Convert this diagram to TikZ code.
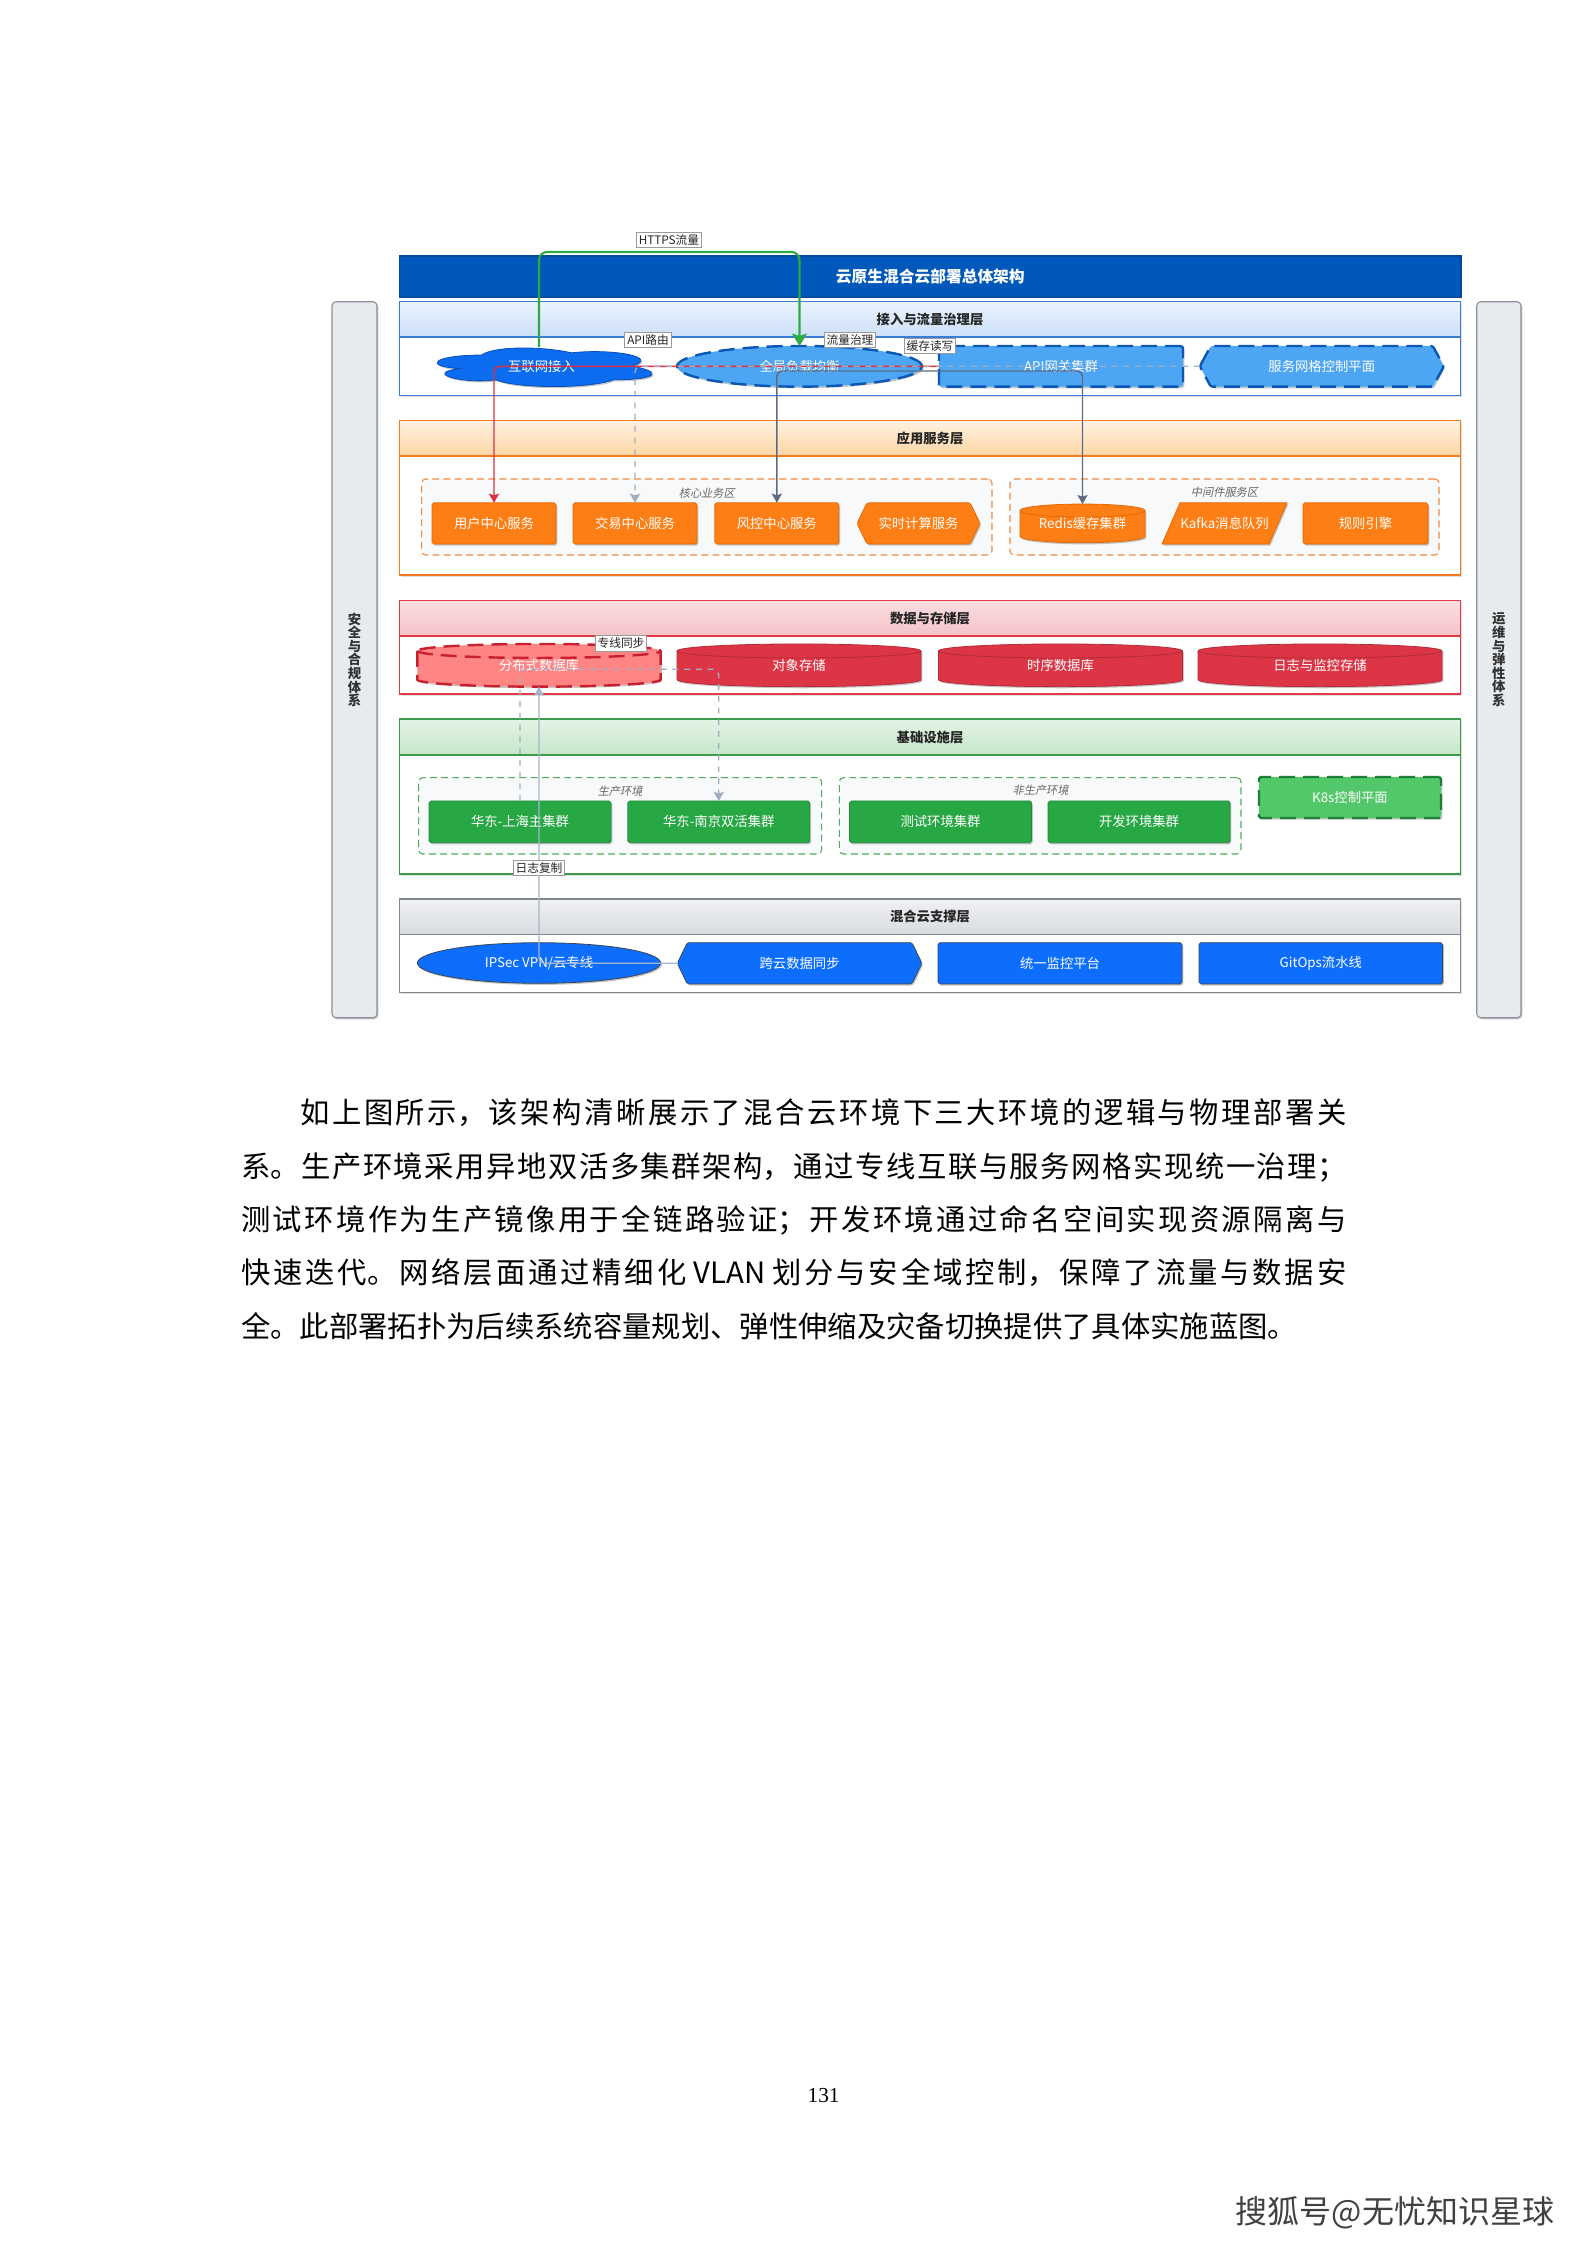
\documentclass[tikz,border=0pt]{standalone}
\usepackage{fontspec}
\setmainfont{Noto Sans CJK SC}
\newfontfamily\songti{Noto Sans CJK SC}
\newfontfamily\cjkslant{Noto Sans CJK SC}[FakeSlant=0.2]
\newfontfamily\pagefont{Liberation Serif}
\usetikzlibrary{shapes.geometric,arrows.meta,shadows,calc}
\XeTeXlinebreaklocale "zh"
\XeTeXlinebreakskip=0pt plus 10pt
\pgfdeclarelayer{bg}
\pgfdeclarelayer{shp}
\pgfsetlayers{bg,shp,main}
\newcommand\fs[1]{\fontsize{#1}{#1}\selectfont}
\definecolor{cTitle}{HTML}{0058BB}\definecolor{cTitleD}{HTML}{004A9E}
\definecolor{c1B}{HTML}{3A7DD8}\definecolor{c1T}{HTML}{EAF3FE}\definecolor{c1M}{HTML}{CCE0F8}
\definecolor{c2B}{HTML}{F47B20}\definecolor{c2T}{HTML}{FFF1DF}\definecolor{c2M}{HTML}{FFD6A5}
\definecolor{c3B}{HTML}{E23B47}\definecolor{c3T}{HTML}{FBDDE0}\definecolor{c3M}{HTML}{F4C2C7}
\definecolor{c4B}{HTML}{3B9B4A}\definecolor{c4T}{HTML}{E4F4E5}\definecolor{c4M}{HTML}{C5E6C9}
\definecolor{c5B}{HTML}{80878F}\definecolor{c5T}{HTML}{F0F1F3}\definecolor{c5M}{HTML}{D8DBE0}
\definecolor{cCloud}{HTML}{0C6CF0}\definecolor{cCloudD}{HTML}{0A4FB8}
\definecolor{cLt}{HTML}{4DA6F3}\definecolor{cDk}{HTML}{0B57B5}
\definecolor{cOr}{HTML}{FD7E14}\definecolor{cOrD}{HTML}{E36A05}
\definecolor{cRd}{HTML}{DC3545}\definecolor{cRdD}{HTML}{B52A37}
\definecolor{cDbL}{HTML}{FF8585}\definecolor{cDbD}{HTML}{C8202F}
\definecolor{cGr}{HTML}{28A745}\definecolor{cGrD}{HTML}{1F8A38}
\definecolor{cK8}{HTML}{52C86A}\definecolor{cK8D}{HTML}{1E7E34}
\definecolor{cBl}{HTML}{0D6EFD}\definecolor{cBlD}{HTML}{3A4654}
\definecolor{cZone}{HTML}{F8F9FA}\definecolor{cOrZ}{HTML}{F08A3C}\definecolor{cGrZ}{HTML}{4CAF5A}
\definecolor{cSide}{HTML}{E8EBEE}\definecolor{cSideD}{HTML}{8A9098}
\definecolor{cRedL}{HTML}{E0303F}\definecolor{cSlate}{HTML}{5C6B82}\definecolor{cGrayD}{HTML}{A0ADBE}
\definecolor{cLight}{HTML}{A6B6CE}\definecolor{cHttps}{HTML}{2DAA46}\definecolor{cLbl}{HTML}{9A9A9A}
\tikzset{
  sz/.style 2 args={minimum width=#1*0.375pt, minimum height=#2*0.375pt},
  shad/.style={drop shadow={shadow xshift=0.5pt,shadow yshift=-0.6pt,opacity=0.22,fill=black}},
  nd/.style={inner sep=0pt, outer sep=0pt, text=white, font=\fs{5}, align=center},
  box/.style={nd, rectangle, rounded corners=0.7pt, shad, line width=0.3pt},
  orng/.style={box, fill=cOr, draw=cOrD},
  grn/.style={box, fill=cGr, draw=cGrD},
  blu/.style={box, fill=cBl, draw=cBlD},
  dsh/.style={line width=0.9pt, dash pattern=on 6pt off 3pt},
  hold/.style={nd, rectangle},
  title/.style={rectangle, inner sep=0pt, fill=cTitle, draw=cTitleD, line width=0.4pt, text=white, font=\fs{5.9}\bfseries},
  lbody/.style={rectangle, inner sep=0pt, fill=white, draw=#1, line width=0.4pt, drop shadow={shadow xshift=0.5pt,shadow yshift=-0.6pt,opacity=0.12,fill=black}},
  lhead/.style={rectangle, inner sep=0pt, draw=#1, line width=0.4pt, font=\fs{5}\bfseries, text=black!85},
  zone/.style={rectangle, rounded corners=1.5pt, fill=cZone, draw=#1, line width=0.4pt, dash pattern=on 2.6pt off 1.6pt, inner sep=0pt},
  zlbl/.style={font=\cjkslant\fs{4.2}, text=black!60, inner sep=0pt},
  side/.style={rectangle, rounded corners=1.5pt, fill=cSide, draw=cSideD, line width=0.4pt, align=center, font=\fontsize{5}{5.1}\selectfont\bfseries, text=black!80, inner sep=0pt, shad},
  elbl/.style={fill=white, draw=cLbl, line width=0.3pt, inner sep=0.9pt, font=\fs{4.4}, text=black!85},
  tipS/.style={-{Stealth[length=3.4pt,width=3.8pt,inset=0.6pt]}},
  redl/.style={draw=cRedL, line width=0.55pt, rounded corners=2pt, tipS},
  grayd/.style={draw=cGrayD, line width=0.5pt, dash pattern=on 2.2pt off 2.2pt, rounded corners=2pt, tipS},
  slate/.style={draw=cSlate, line width=0.55pt, rounded corners=2pt},
  lightl/.style={draw=cLight, line width=0.45pt, rounded corners=2pt, tipS},
  https/.style={draw=cHttps, line width=0.8pt, rounded corners=3pt, -{Stealth[length=4.6pt,width=5.6pt,inset=0.8pt]}},
  para/.style={anchor=north west, inner sep=0pt, text width=414.5pt, align=justify, font=\songti\fontsize{11}{20}\selectfont, text=black}
}
\newcommand\hexa[3]{\begin{pgfonlayer}{shp}\path[#3] (#1.west) -- ($(#1.north west)+(#2,0)$) -- ($(#1.north east)+(-#2,0)$) -- (#1.east) -- ($(#1.south east)+(-#2,0)$) -- ($(#1.south west)+(#2,0)$) -- cycle;\end{pgfonlayer}}
\newcommand\paral[3]{\begin{pgfonlayer}{shp}\path[#3] (#1.south west) -- ($(#1.north west)+(#2,0)$) -- (#1.north east) -- ($(#1.south east)+(-#2,0)$) -- cycle;\end{pgfonlayer}}
\newcommand\cylnd[5]{\begin{pgfonlayer}{shp}
\path[#4] ($(#1.north west)+(0,-#3)$) -- ($(#1.south west)+(0,#3)$) arc[start angle=180,end angle=360,x radius=#2*0.1875pt,y radius=#3*0.375pt] -- ($(#1.north east)+(0,-#3)$) arc[start angle=0,end angle=180,x radius=#2*0.1875pt,y radius=#3*0.375pt] -- cycle;
\path[#5] ($(#1.north west)+(0,-#3)$) arc[start angle=180,end angle=360,x radius=#2*0.1875pt,y radius=#3*0.375pt];
\end{pgfonlayer}}
\begin{document}
\begin{tikzpicture}[x=0.375pt,y=0.375pt]
\begin{pgfonlayer}{bg}
\fill[white] (0,0) rectangle (1587,-2245);
\end{pgfonlayer}
\useasboundingbox (0,0) rectangle (1587,-2245);

% side bars
\node[side, sz={45}{716}] (secL) at (354.5,-659.75) {安\\全\\与\\合\\规\\体\\系};
\node[side, sz={44.3}{716}] (opsR) at (1498.85,-659.75) {运\\维\\与\\弹\\性\\体\\系};

% title
\node[title, sz={1061.4}{41}] (T) at (930.3,-276.5) {云原生混合云部署总体架构};

% layers
\begin{pgfonlayer}{bg}
\node[lbody=c1B, sz={1060.9}{94}] (L1) at (930.05,-348.7) {};
\node[lhead=c1B, top color=c1T, bottom color=c1M, sz={1060.9}{35.3}] (L1h) at (930.05,-319.35) {接入与流量治理层};
\node[lbody=c2B, sz={1060.9}{154.3}] (L2) at (930.05,-497.85) {};
\node[lhead=c2B, top color=c2T, bottom color=c2M, sz={1060.9}{35.3}] (L2h) at (930.05,-438.35) {应用服务层};
\node[lbody=c3B, sz={1060.9}{93.3}] (L3) at (930.05,-647.35) {};
\node[lhead=c3B, top color=c3T, bottom color=c3M, sz={1060.9}{35.3}] (L3h) at (930.05,-618.35) {数据与存储层};
\node[lbody=c4B, sz={1060.9}{155}] (L4) at (930.05,-796.5) {};
\node[lhead=c4B, top color=c4T, bottom color=c4M, sz={1060.9}{36}] (L4h) at (930.05,-737) {基础设施层};
\node[lbody=c5B, sz={1060.9}{93.7}] (L5) at (930.05,-945.85) {};
\node[lhead=c5B, top color=c5T, bottom color=c5M, sz={1060.9}{35.3}] (L5h) at (930.05,-916.65) {混合云支撑层};
% zones
\node[zone=cOrZ, sz={570.4}{76}] (zcore) at (706.8,-517) {};
\node[zone=cOrZ, sz={429}{76}] (zmid) at (1224.5,-517) {};
\node[zone=cGrZ, sz={402.9}{76.3}] (zprod) at (620.15,-815.85) {};
\node[zone=cGrZ, sz={401.6}{76.3}] (znon) at (1040.2,-815.85) {};
\end{pgfonlayer}
\node[zlbl] (zcoreL) at (706.8,-493) {核心业务区};
\node[zlbl] (zmidL) at (1224.5,-492.7) {中间件服务区};
\node[zlbl] (zprodL) at (620.15,-791.7) {生产环境};
\node[zlbl] (znonL) at (1040.6,-790.7) {非生产环境};

% layer 1
\node[hold, sz={240}{45}] (net) at (541.5,-366.3) {互联网接入};
\begin{pgfonlayer}{shp}
\begin{scope}[shift={(net.north west)}, x=90pt, y=-16.875pt]
\path[fill=cCloud, draw=cCloudD, line width=0.3pt, shad] (0.25,0.25) .. controls (0.05,0.25) and (0,0.5) .. (0.16,0.55) .. controls (0,0.66) and (0.18,0.9) .. (0.31,0.8) .. controls (0.4,1) and (0.7,1) .. (0.8,0.8) .. controls (1,0.8) and (1,0.6) .. (0.875,0.5) .. controls (1,0.3) and (0.8,0.1) .. (0.625,0.2) .. controls (0.5,0.05) and (0.3,0.05) .. (0.25,0.25) -- cycle;
\end{scope}
\end{pgfonlayer}
\node[ellipse, nd, sz={245}{40.7}, fill=cLt, draw=cDk, dsh, shad] (lb) at (799.5,-366.3) {全局负载均衡};
\node[box, fill=cLt, draw=cDk, dsh, sz={244}{40.7}] (gw) at (1061,-366.3) {API网关集群};
\node[hold, sz={244}{40.7}] (mesh) at (1321.8,-366.3) {服务网格控制平面};
\hexa{mesh}{11}{fill=cLt, draw=cDk, dsh, shad, rounded corners=0.8pt}

% layer 2
\node[orng, sz={124}{41.3}] (s1) at (494,-523.4) {用户中心服务};
\node[orng, sz={124}{41.3}] (s2) at (635,-523.4) {交易中心服务};
\node[orng, sz={124}{41.3}] (s3) at (776.8,-523.4) {风控中心服务};
\node[hold, sz={123}{41.3}] (s4) at (918.5,-523.4) {实时计算服务};
\hexa{s4}{10}{fill=cOr, draw=cOrD, line width=0.3pt, shad, rounded corners=0.6pt}
\node[hold, sz={125}{38.7}] (redis) at (1082.5,-523.4) {Redis缓存集群};
\cylnd{redis}{125}{6.5}{fill=cOr, draw=cOrD, line width=0.3pt, shad}{draw=cOrD, line width=0.3pt}
\node[hold, sz={125}{41.3}] (kafka) at (1224.5,-523.4) {Kafka消息队列};
\paral{kafka}{18}{fill=cOr, draw=cOrD, line width=0.3pt, shad}
\node[orng, sz={125}{41.3}] (rule) at (1365.5,-523.4) {规则引擎};

% layer 3
\node[hold, sz={243.3}{42.7}] (db) at (539,-665.3) {分布式数据库};
\cylnd{db}{243.3}{7}{fill=cDbL, draw=cDbD, dsh, shad}{draw=cDbD, dsh}
\node[hold, sz={244}{42.7}] (obj) at (799,-665.3) {对象存储};
\cylnd{obj}{244}{7}{fill=cRd, draw=cRdD, line width=0.3pt, shad}{draw=cRdD, line width=0.3pt}
\node[hold, sz={244}{42.7}] (tsdb) at (1060.5,-665.3) {时序数据库};
\cylnd{tsdb}{244}{7}{fill=cRd, draw=cRdD, line width=0.3pt, shad}{draw=cRdD, line width=0.3pt}
\node[hold, sz={244}{42.7}] (logs) at (1320,-665.3) {日志与监控存储};
\cylnd{logs}{244}{7}{fill=cRd, draw=cRdD, line width=0.3pt, shad}{draw=cRdD, line width=0.3pt}

% layer 4
\node[grn, sz={182}{41.7}] (sh) at (520,-821.8) {华东-上海主集群};
\node[grn, sz={182}{41.7}] (nj) at (718.8,-821.8) {华东-南京双活集群};
\node[grn, sz={182}{41.7}] (test) at (940.5,-821.8) {测试环境集群};
\node[grn, sz={182}{41.7}] (dev) at (1139,-821.8) {开发环境集群};
\node[box, fill=cK8, draw=cK8D, dsh, sz={182}{41}] (k8s) at (1350,-797.5) {K8s控制平面};

% layer 5
\node[ellipse, nd, fill=cBl, draw=cBlD, line width=0.3pt, shad, sz={243.3}{40.6}] (vpn) at (539,-963) {IPSec VPN/云专线};
\node[hold, sz={244.6}{41.3}] (sync) at (799.6,-963.3) {跨云数据同步};
\hexa{sync}{10}{fill=cBl, draw=cBlD, line width=0.3pt, shad, rounded corners=0.6pt}
\node[blu, sz={244}{41.3}] (mon) at (1060,-963.3) {统一监控平台};
\node[blu, sz={243.6}{41.3}] (git) at (1320.8,-963.3) {GitOps流水线};

% connectors
\coordinate (h1) at (669,-252);
\coordinate (netTop) at (539,-347);
\draw[https] (netTop) |- (h1) -| (lb.north);
\draw[redl] (gw.west) -| (s1.north);
\draw[grayd] (mesh.west) -| (s2.north);
\coordinate (c1) at (930,-371);
\draw[slate, {Stealth[length=3.4pt,width=3.8pt,inset=0.6pt]}-{Stealth[length=3.4pt,width=3.8pt,inset=0.6pt]}] (s3.north) |- (c1) -| (redis.north);
\coordinate (c2) at (620,-669.3);
\draw[grayd] (sh.north) |- (c2) -| (nj.north);
\draw[lightl] (sync.west) -| (db.south);

% connector labels
\node[elbl] (lh) at (669,-240) {HTTPS流量};
\node[elbl] (la) at (648,-340) {API路由};
\node[elbl] (lf) at (850,-340) {流量治理};
\node[elbl] (lc) at (930,-346) {缓存读写};
\node[elbl] (lz) at (621,-643.5) {专线同步};
\node[elbl] (lr) at (539,-868) {日志复制};

% paragraph
\node[para] (ptext) at (240.6,-1098.5) {\parfillskip=0pt\relax\hspace*{22.2pt}如上图所示，该架构清晰展示了混合云环境下三大环境的逻辑与物理部署关\linebreak 系。生产环境采用异地双活多集群架构，通过专线互联与服务网格实现统一治理；\linebreak 测试环境作为生产镜像用于全链路验证；开发环境通过命名空间实现资源隔离与\linebreak 快速迭代。网络层面通过精细化 VLAN 划分与安全域控制，保障了流量与数据安\linebreak 全。此部署拓扑为后续系统容量规划、弹性伸缩及灾备切换提供了具体实施蓝图。};

\node[font=\pagefont\fs{8}, inner sep=0pt] (pg) at (823.6,-2095.5) {131};
\node[font=\fs{12}, text=black!75, inner sep=0pt] (wm) at (1395,-2213) {搜狐号@无忧知识星球};
\end{tikzpicture}
\end{document}
